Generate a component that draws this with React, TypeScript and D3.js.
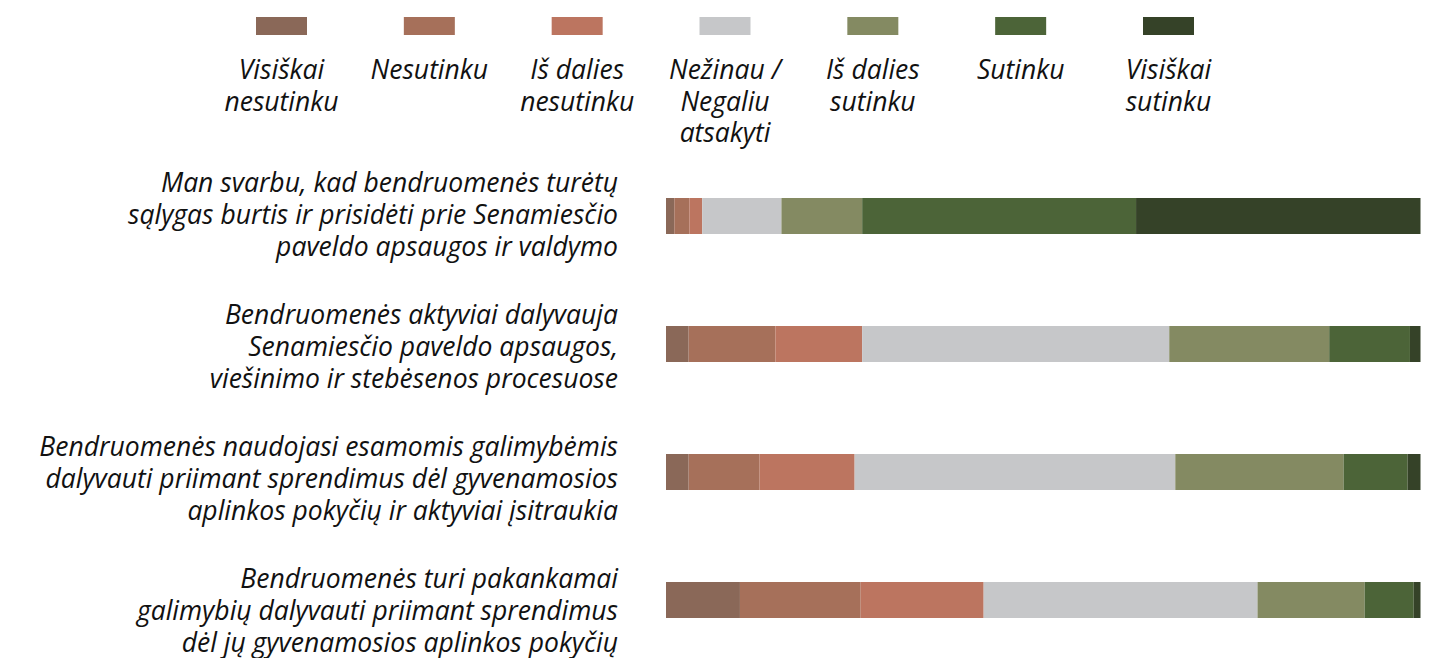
import React from "react";
import * as d3 from "d3";

const responses = [
  "Visiškai nesutinku",
  "Nesutinku",
  "Iš dalies nesutinku",
  "Nežinau / Negaliu atsakyti",
  "Iš dalies sutinku",
  "Sutinku",
  "Visiškai sutinku",
];
const legendLines = [
  ["Visiškai", "nesutinku"],
  ["Nesutinku"],
  ["Iš dalies", "nesutinku"],
  ["Nežinau /", "Negaliu", "atsakyti"],
  ["Iš dalies", "sutinku"],
  ["Sutinku"],
  ["Visiškai", "sutinku"],
];
const colors = ["#8a6858", "#a6705a", "#bc7560", "#c6c7c9", "#848a62", "#4c6438", "#354228"];

const statements = ["s1", "s2", "s3", "s4"];
const statementLines = [
  ["Man svarbu, kad bendruomenės turėtų", "sąlygas burtis ir prisidėti prie Senamiesčio", "paveldo apsaugos ir valdymo"],
  ["Bendruomenės aktyviai dalyvauja", "Senamiesčio paveldo apsaugos,", "viešinimo ir stebėsenos procesuose"],
  ["Bendruomenės naudojasi esamomis galimybėmis", "dalyvauti priimant sprendimus dėl gyvenamosios", "aplinkos pokyčių ir aktyviai įsitraukia"],
  ["Bendruomenės turi pakankamai", "galimybių dalyvauti priimant sprendimus", "dėl jų gyvenamosios aplinkos pokyčių"],
];
const values = [
  [1.1, 2.0, 1.7, 10.5, 10.7, 36.3, 37.7],
  [3.0, 11.5, 11.5, 40.7, 21.2, 10.7, 1.4],
  [3.0, 9.4, 12.6, 42.5, 22.3, 8.5, 1.7],
  [9.8, 16.0, 16.3, 36.3, 14.2, 6.5, 0.9],
];

const W = 1433;
const H = 658;
const FONT = "'Open Sans', 'Noto Sans', sans-serif";

export default function App() {
  const x = d3.scaleLinear().domain([0, 100]).range([666, 1420.5]);
  const yBar = d3.scalePoint<string>().domain(statements).range([216, 600]);
  const yLabel = d3.scalePoint<string>().domain(statements).range([215, 611]);
  const xLegend = d3.scalePoint<string>().domain(responses).range([281.5, 1168.5]);
  const barH = 36;
  const lineH = 31.5;
  const fs = 26.5;

  return (
    <svg width={W} height={H} style={{ position: "absolute", left: 0, top: 0, background: "#fff" }}>
      {responses.map((r, i) => {
        const cx = xLegend(r)!;
        return (
          <g key={r}>
            <rect x={cx - 25.5} y={17} width={51} height={18} fill={colors[i]} />
            {legendLines[i].map((t, j) => (
              <text
                key={j}
                x={cx}
                y={70 + j * lineH}
                dy="0.35em"
                textAnchor="middle"
                fontFamily={FONT}
                fontStyle="italic"
                fontSize={fs}
                fill="#111"
              >
                {t}
              </text>
            ))}
          </g>
        );
      })}
      {statements.map((s, si) => {
        const stacks = d3.cumsum(values[si]);
        const cy = yBar(s)!;
        const ly = yLabel(s)!;
        const n = statementLines[si].length;
        return (
          <g key={s}>
            {values[si].map((v, i) => {
              const x0 = x(stacks[i] - v);
              const x1 = x(stacks[i]);
              return (
                <rect key={i} x={x0} y={cy - barH / 2} width={Math.max(0, x1 - x0)} height={barH} fill={colors[i]} />
              );
            })}
            {statementLines[si].map((t, j) => (
              <text
                key={j}
                x={618}
                y={ly + (j - (n - 1) / 2) * 32}
                dy="0.35em"
                textAnchor="end"
                fontFamily={FONT}
                fontStyle="italic"
                fontSize={fs}
                fill="#111"
              >
                {t}
              </text>
            ))}
          </g>
        );
      })}
    </svg>
  );
}
